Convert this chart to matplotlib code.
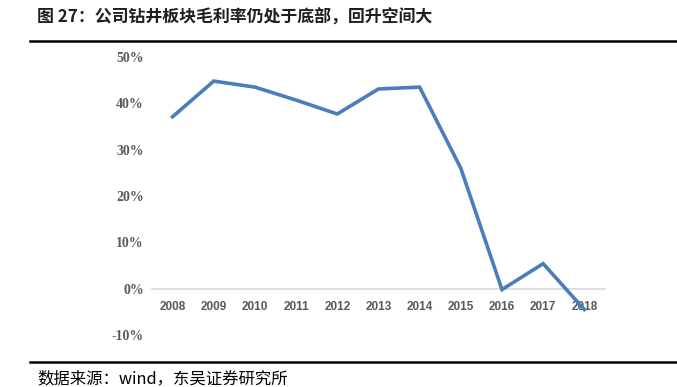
import matplotlib.pyplot as plt
from matplotlib.lines import Line2D

# data
years = ['2008', '2009', '2010', '2011', '2012', '2013', '2014', '2015', '2016', '2017', '2018']
margin = [37.1, 44.8, 43.5, 40.7, 37.7, 43.1, 43.5, 26.0, -0.2, 5.4, -4.5]
y_ticks = [-10, 0, 10, 20, 30, 40, 50]

title = '图 27：公司钻井板块毛利率仍处于底部，回升空间大'
source = '数据来源：wind，东吴证券研究所'

cjk = ['Noto Sans CJK SC', 'DejaVu Sans']

fig = plt.figure(figsize=(6.77, 3.87), dpi=100)
ax = fig.add_axes([0.2245, 0.1344, 0.669, 0.7183])

x = range(len(years))
ax.plot(x, margin, color='#4a7ebb', lw=2.6, solid_joinstyle='miter', zorder=3)

for s in ['top', 'right', 'left']:
    ax.spines[s].set_visible(False)
ax.spines['bottom'].set_position(('data', 0))
ax.spines['bottom'].set_color('#d9d9d9')
ax.spines['bottom'].set_linewidth(1.2)

ax.set_xlim(-0.5, len(years) - 0.5)
ax.set_ylim(-10, 50)
ax.set_yticks(y_ticks)
ax.set_yticklabels([f'{v}%' for v in y_ticks], family='Liberation Serif',
                   fontweight='bold', fontsize=10, color='#595959')
ax.set_xticks(list(x))
ax.set_xticklabels(years, family='Liberation Sans', fontweight='bold',
                   fontsize=8.5, color='#595959')
ax.tick_params(axis='both', length=0)
ax.tick_params(axis='y', pad=6)
ax.tick_params(axis='x', pad=9)

# header / footer
fig.text(0.055, 0.955, title, family=cjk, fontweight='bold', fontsize=12.2,
         color='#1f1f1f', va='center', ha='left')
fig.add_artist(Line2D([0.044, 1.0], [0.894, 0.894], color='black', lw=1.8))
fig.add_artist(Line2D([0.044, 1.0], [0.064, 0.064], color='black', lw=1.8))
fig.text(0.055, 0.022, source, family=cjk, fontsize=11.8, color='black',
         va='center', ha='left')

fig.savefig('out.png', dpi=100)
